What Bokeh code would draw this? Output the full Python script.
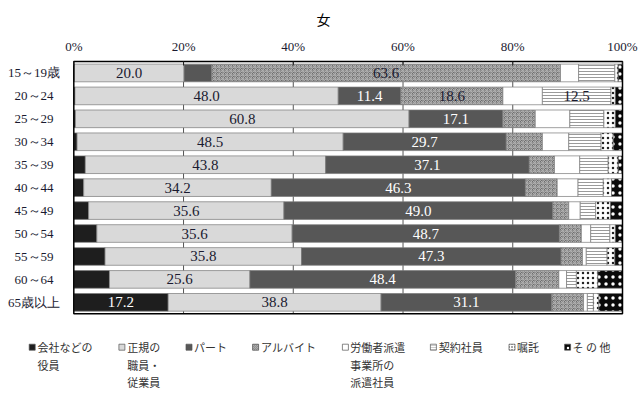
from bokeh.plotting import figure
from bokeh.models import ColumnDataSource, Range1d
from bokeh.core.properties import value
from bokeh.embed import file_html
from bokeh.resources import INLINE
import numpy as np

title_text = "女"
ages = ["15～19歳", "20～24", "25～29", "30～34", "35～39", "40～44",
        "45～49", "50～54", "55～59", "60～64", "65歳以上"]
series = ["会社などの役員", "正規の職員・従業員", "パート", "アルバイト",
          "労働者派遣事業所の派遣社員", "契約社員", "嘱託", "その他"]
yakuin = [0.1, 0.2, 0.3, 0.6, 2.1, 1.8, 2.7, 4.2, 5.7, 6.5, 17.2]
seiki = [20.0, 48.0, 60.8, 48.5, 43.8, 34.2, 35.6, 35.6, 35.8, 25.6, 38.8]
part = [5.0, 11.4, 17.1, 29.7, 37.1, 46.3, 49.0, 48.7, 47.3, 48.4, 31.1]
arbeit = [63.6, 18.6, 5.9, 6.6, 4.6, 5.8, 2.9, 4.0, 3.9, 7.9, 5.8]
haken = [3.3, 7.2, 6.3, 4.8, 4.6, 3.8, 2.1, 1.7, 0.7, 1.4, 0.7]
keiyaku = [6.6, 12.5, 6.2, 5.9, 5.2, 4.6, 2.8, 3.5, 3.8, 1.8, 1.1]
shokutaku = [0.6, 0.8, 2.1, 2.2, 1.8, 1.5, 2.7, 1.0, 1.4, 3.9, 1.0]
sonota = [0.8, 1.3, 1.3, 1.7, 0.8, 2.0, 2.2, 1.3, 1.4, 4.5, 4.3]
tick_values = [0, 20, 40, 60, 80, 100]
tick_labels = ["0%", "20%", "40%", "60%", "80%", "100%"]
legend_lines = [["会社などの", "役員"], ["正規の", "職員・", "従業員"], ["パート"],
                ["アルバイト"], ["労働者派遣", "事業所の", "派遣社員"], ["契約社員"],
                ["嘱託"], ["そ の 他"]]

values = [yakuin, seiki, part, arbeit, haken, keiyaku, shokutaku, sonota]

# ---- styles ----
fills = ["#1e1e1e", "#d9d9d9", "#575757", "#6e6e6e", "#ffffff", "#ffffff", "#ffffff", "#0a0a0a"]
hatches = [None, None, None, "criss_cross", None, "horizontal_line", "dot", "dot"]
hatch_colors = ["#000000", "#000000", "#000000", "#b0b0b0", "#000000", "#9a9a9a", "#222222", "#ffffff"]
hatch_scales = [6, 6, 6, 4, 6, 3, 5, 7]
text_colors = ["#ffffff", "#1a1a30", "#ffffff", "#1a1a30", "#1a1a30", "#1a1a30", "#1a1a30", "#ffffff"]

# ---- layout geometry (pixels) ----
W, H = 640, 394
X0, X1 = 73.3, 622.0      # pixel of 0% and 100%
Y0, Y1 = 61.0, 313.3      # top / bottom of plot box
SX = (X1 - X0) / 100.0
R = (Y1 - Y0) / len(ages)


def px_x(px):
    return (px - X0) / SX


def px_y(py):
    return (py - Y0) / R


p = figure(width=W, height=H, x_range=Range1d(px_x(0), px_x(W)),
           y_range=Range1d(px_y(H), px_y(0)), toolbar_location=None,
           output_backend="svg", min_border=0)
p.axis.visible = False
p.grid.visible = False
p.outline_line_color = None

n = len(ages)
rows = np.arange(n) + 0.5

# grid lines
grid_ticks = tick_values[1:-1]
p.segment(x0=grid_ticks, y0=[0] * len(grid_ticks), x1=grid_ticks, y1=[n] * len(grid_ticks),
          line_color="#555555", line_width=1)

arr = np.array(values)
cum = np.cumsum(arr, axis=0)
lab_x, lab_y, lab_t, lab_c = [], [], [], []
for j in range(len(values)):
    left = cum[j - 1] if j > 0 else np.zeros(n)
    right = cum[j]
    src = ColumnDataSource(dict(y=rows, left=left, right=right))
    kw = {}
    if hatches[j]:
        kw = dict(hatch_pattern=hatches[j], hatch_color=hatch_colors[j],
                  hatch_scale=hatch_scales[j], hatch_weight=1)
    p.hbar(y="y", left="left", right="right", height=0.77, source=src,
           fill_color=fills[j], line_color="#7a7a7a", line_width=0.7, **kw)
    for i, v in enumerate(values[j]):
        if v >= 10:
            lab_x.append((left[i] + right[i]) / 2)
            lab_y.append(rows[i])
            lab_t.append(f"{v:.1f}")
            lab_c.append(text_colors[j])

lsrc = ColumnDataSource(dict(x=lab_x, y=lab_y, t=lab_t, c=lab_c))
p.text(x="x", y="y", text="t", text_color="c", source=lsrc, text_align="center",
       text_baseline="middle", text_font=value("Liberation Serif"), text_font_size="15px")

# plot box
p.quad(left=[0], right=[100], top=[0], bottom=[n], fill_color=None,
       line_color="#000000", line_width=1.5)
# inward ticks on top
p.segment(x0=tick_values, y0=[0] * len(tick_values), x1=tick_values,
          y1=[px_y(Y0 + 4)] * len(tick_values), line_color="#222222", line_width=1)
# tick labels
p.text(x=tick_values, y=[px_y(46)] * len(tick_values), text=tick_labels,
       text_align="center", text_baseline="middle", text_font=value("Liberation Serif"),
       text_font_size="13px", text_color="#1a1a30")
# category labels
p.text(x=[px_x(33.5)] * n, y=rows, text=ages, text_align="center", text_baseline="middle",
       text_font=value("Liberation Serif"), text_font_size="13px", text_color="#1a1a30")
# title
p.text(x=[px_x(323)], y=[px_y(18)], text=[title_text], text_align="center",
       text_baseline="middle", text_font=value("Noto Sans CJK JP"), text_font_size="14px",
       text_color="#000000")

# legend
sw_x = [31.7, 121.4, 188.5, 255.1, 344.9, 432.9, 511.5, 567.1]
tx_x = [37.0, 126.7, 193.4, 260.5, 349.8, 438.3, 516.5, 572.0]
line_y = [346.7, 364.4, 381.7]
for j in range(len(series)):
    kw = {}
    if hatches[j]:
        kw = dict(hatch_pattern=hatches[j], hatch_color=hatch_colors[j],
                  hatch_scale=max(2, hatch_scales[j] - 2), hatch_weight=1)
    p.rect(x=[px_x(sw_x[j])], y=[px_y(line_y[0])], width=6, height=6,
           width_units="screen", height_units="screen", fill_color=fills[j],
           line_color="#555555", line_width=0.7, **kw)
    k = len(legend_lines[j])
    p.text(x=[px_x(tx_x[j])] * k, y=[px_y(v) for v in line_y[:k]], text=legend_lines[j],
           text_align="left", text_baseline="middle", text_font=value("Noto Sans CJK JP"),
           text_font_size="11px", text_color="#333333")

open("out.html", "w").write(file_html(p, INLINE))
